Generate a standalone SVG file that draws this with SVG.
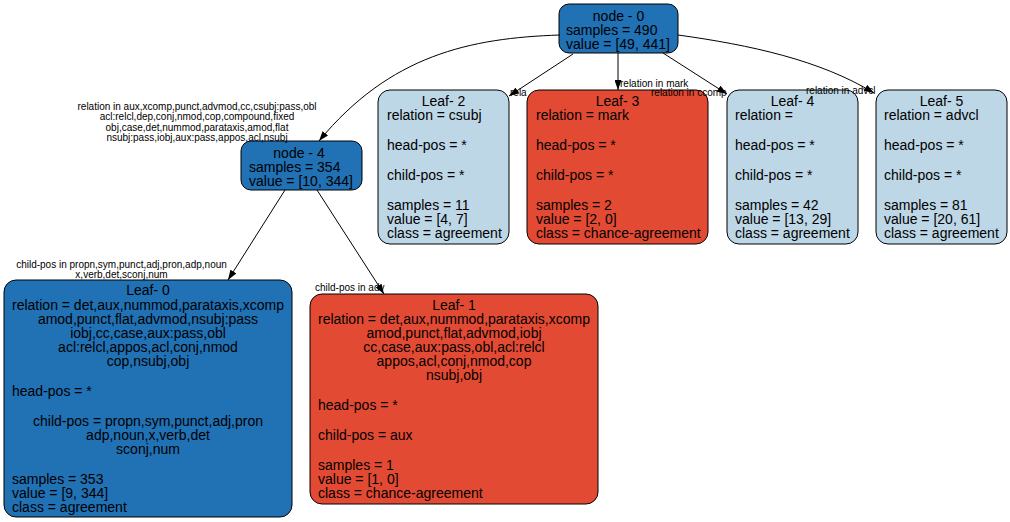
<svg xmlns="http://www.w3.org/2000/svg" width="1010" height="522" viewBox="0 0 1010 522">
<style>
  .box{stroke:#000;stroke-width:1}
  .dark{fill:#2171b5}
  .red{fill:#e34a33}
  .light{fill:#bdd7e7}
  text{font-family:"Liberation Sans",Arial,Helvetica,sans-serif;fill:#000}
  .n{font-size:14px}
  .c{text-anchor:middle}
  .e{font-size:10px}
  .edge{fill:none;stroke:#000;stroke-width:1}
</style>
<defs>
  <marker id="arr" markerWidth="10" markerHeight="7" refX="10" refY="3.5" orient="auto" markerUnits="userSpaceOnUse">
    <path d="M0,0 L10,3.5 L0,7 z" fill="#000"/>
  </marker>
  <clipPath id="clipCsubj"><rect x="0" y="0" width="527" height="522"/></clipPath>
</defs>
<rect width="1010" height="522" fill="#fff"/>

<g id="node0">
  <rect class="box dark" x="559" y="4" width="119" height="49" rx="10"/>
  <text class="n c" x="618.5" y="20.5">node - 0</text>
  <text class="n" x="566" y="34.5">samples = 490</text>
  <text class="n" x="566" y="48.5">value = [49, 441]</text>
</g>

<g id="node4">
  <rect class="box dark" x="241" y="141" width="121" height="49" rx="10"/>
  <text class="n c" x="299" y="158">node - 4</text>
  <text class="n" x="249" y="172">samples = 354</text>
  <text class="n" x="249" y="186">value = [10, 344]</text>
</g>

<g id="leaf2">
  <rect class="box light" x="378" y="90" width="131" height="154" rx="12"/>
  <text class="n c" x="443.5" y="105.5">Leaf- 2</text>
  <text class="n" x="387" y="119.5">relation = csubj</text>
  <text class="n" x="387" y="149.5">head-pos = *</text>
  <text class="n" x="387" y="179.5">child-pos = *</text>
  <text class="n" x="387" y="209.5">samples = 11</text>
  <text class="n" x="387" y="223.5">value = [4, 7]</text>
  <text class="n" x="387" y="237.5">class = agreement</text>
</g>

<g id="leaf3">
  <rect class="box red" x="527" y="90" width="181" height="154" rx="12"/>
  <text class="n c" x="617.5" y="105.5">Leaf- 3</text>
  <text class="n" x="536" y="119.5">relation = mark</text>
  <text class="n" x="536" y="149.5">head-pos = *</text>
  <text class="n" x="536" y="179.5">child-pos = *</text>
  <text class="n" x="536" y="209.5">samples = 2</text>
  <text class="n" x="536" y="223.5">value = [2, 0]</text>
  <text class="n" x="536" y="237.5">class = chance-agreement</text>
</g>

<g id="leaf4">
  <rect class="box light" x="727" y="90" width="131" height="154" rx="12"/>
  <text class="n c" x="792.5" y="105.5">Leaf- 4</text>
  <text class="n" x="735" y="119.5">relation = </text>
  <text class="n" x="735" y="149.5">head-pos = *</text>
  <text class="n" x="735" y="179.5">child-pos = *</text>
  <text class="n" x="735" y="209.5">samples = 42</text>
  <text class="n" x="735" y="223.5">value = [13, 29]</text>
  <text class="n" x="735" y="237.5">class = agreement</text>
</g>

<g id="leaf5">
  <rect class="box light" x="876" y="90" width="131" height="154" rx="12"/>
  <text class="n c" x="941.5" y="105.5">Leaf- 5</text>
  <text class="n" x="884" y="119.5">relation = advcl</text>
  <text class="n" x="884" y="149.5">head-pos = *</text>
  <text class="n" x="884" y="179.5">child-pos = *</text>
  <text class="n" x="884" y="209.5">samples = 81</text>
  <text class="n" x="884" y="223.5">value = [20, 61]</text>
  <text class="n" x="884" y="237.5">class = agreement</text>
</g>

<g id="leaf0">
  <rect class="box dark" x="4" y="280" width="288" height="237" rx="12"/>
  <text class="n c" x="148" y="295">Leaf- 0</text>
  <text class="n c" x="148" y="309.5">relation = det,aux,nummod,parataxis,xcomp</text>
  <text class="n c" x="148" y="323.5">amod,punct,flat,advmod,nsubj:pass</text>
  <text class="n c" x="148" y="337.5">iobj,cc,case,aux:pass,obl</text>
  <text class="n c" x="148" y="351.5">acl:relcl,appos,acl,conj,nmod</text>
  <text class="n c" x="148" y="365.5">cop,nsubj,obj</text>
  <text class="n" x="12" y="395.5">head-pos = *</text>
  <text class="n c" x="148" y="425.5">child-pos = propn,sym,punct,adj,pron</text>
  <text class="n c" x="148" y="439.5">adp,noun,x,verb,det</text>
  <text class="n c" x="148" y="453.5">sconj,num</text>
  <text class="n" x="12" y="483.5">samples = 353</text>
  <text class="n" x="12" y="497.5">value = [9, 344]</text>
  <text class="n" x="12" y="511.5">class = agreement</text>
</g>

<g id="leaf1">
  <rect class="box red" x="310" y="294" width="288" height="210" rx="12"/>
  <text class="n c" x="454" y="309.5">Leaf- 1</text>
  <text class="n c" x="454" y="323.5">relation = det,aux,nummod,parataxis,xcomp</text>
  <text class="n c" x="454" y="337.5">amod,punct,flat,advmod,iobj</text>
  <text class="n c" x="454" y="351.5">cc,case,aux:pass,obl,acl:relcl</text>
  <text class="n c" x="454" y="365.5">appos,acl,conj,nmod,cop</text>
  <text class="n c" x="454" y="379.5">nsubj,obj</text>
  <text class="n" x="318" y="409.5">head-pos = *</text>
  <text class="n" x="318" y="439.5">child-pos = aux</text>
  <text class="n" x="318" y="469.5">samples = 1</text>
  <text class="n" x="318" y="483.5">value = [1, 0]</text>
  <text class="n" x="318" y="497.5">class = chance-agreement</text>
</g>

<g id="connectors">
  <g id="e0-4">
    <text class="e c" x="197" y="110">relation in aux,xcomp,punct,advmod,cc,csubj:pass,obl</text>
    <text class="e c" x="197" y="120.3">acl:relcl,dep,conj,nmod,cop,compound,fixed</text>
    <text class="e c" x="197" y="130.6">obj,case,det,nummod,parataxis,amod,flat</text>
    <text class="e c" x="197" y="141">nsubj:pass,iobj,aux:pass,appos,acl,nsubj</text>
    <path class="edge" d="M560,35 C470,38 390,55 319,141" marker-end="url(#arr)"/>
  </g>
  <g id="e0-2">
    <text class="e" x="510" y="95.5" clip-path="url(#clipCsubj)">relation in csubj</text>
    <path class="edge" d="M573,54 L509,96" marker-end="url(#arr)"/>
  </g>
  <g id="e0-3">
    <text class="e" x="620" y="87">relation in mark</text>
    <path class="edge" d="M618,53 L618,90" marker-end="url(#arr)"/>
  </g>
  <g id="e0-4b">
    <text class="e" x="651" y="95.5">relation in ccomp</text>
    <path class="edge" d="M663,53 L727,94" marker-end="url(#arr)"/>
  </g>
  <g id="e0-5">
    <text class="e" x="806" y="93.5">relation in advcl</text>
    <path class="edge" d="M678,35 C750,45 820,60 874,93" marker-end="url(#arr)"/>
  </g>
  <g id="e4-0">
    <text class="e c" x="121.5" y="267.5">child-pos in propn,sym,punct,adj,pron,adp,noun</text>
    <text class="e c" x="121.5" y="277.5">x,verb,det,sconj,num</text>
    <path class="edge" d="M285,190 L228,280" marker-end="url(#arr)"/>
  </g>
  <g id="e4-1">
    <text class="e" x="315" y="291">child-pos in adv</text>
    <path class="edge" d="M317,190 L384,294" marker-end="url(#arr)"/>
  </g>
</g>
</svg>
